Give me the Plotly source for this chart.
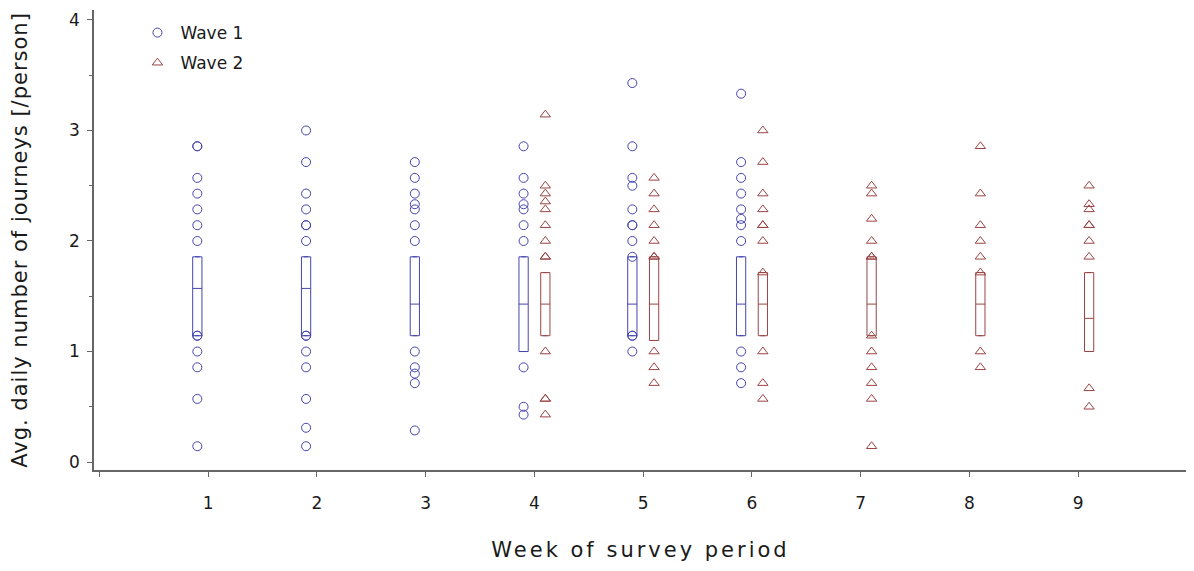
import plotly.graph_objects as go

weeks = [1, 2, 3, 4, 5, 6, 7, 8, 9]
tick_labels = ["1", "2", "3", "4", "5", "6", "7", "8", "9"]

# Wave 1 individual values (weeks 1-6)
wave1_wk1 = [2.857, 2.857, 2.571, 2.429, 2.286, 2.143, 2.0, 1.143, 1.143, 1.0, 0.857, 0.571, 0.143]
wave1_wk2 = [3.0, 2.714, 2.429, 2.286, 2.143, 2.143, 2.0, 1.143, 1.143, 1.0, 0.857, 0.571, 0.31, 0.143]
wave1_wk3 = [2.714, 2.571, 2.429, 2.333, 2.286, 2.143, 2.0, 1.0, 0.857, 0.80, 0.714, 0.286]
wave1_wk4 = [2.857, 2.571, 2.429, 2.333, 2.286, 2.143, 2.0, 0.857, 0.5, 0.429]
wave1_wk5 = [3.429, 2.857, 2.571, 2.5, 2.286, 2.143, 2.143, 2.0, 1.857, 1.143, 1.143, 1.0]
wave1_wk6 = [3.333, 2.714, 2.571, 2.429, 2.286, 2.2, 2.143, 2.0, 1.0, 0.857, 0.714]

# Wave 2 individual values (weeks 4-9)
wave2_wk4 = [3.143, 2.5, 2.429, 2.357, 2.286, 2.143, 2.0, 1.857, 1.857, 1.0, 0.571, 0.571, 0.429]
wave2_wk5 = [2.571, 2.429, 2.286, 2.143, 2.0, 1.857, 1.857, 1.0, 0.857, 0.714]
wave2_wk6 = [3.0, 2.714, 2.429, 2.286, 2.143, 2.143, 2.0, 1.714, 1.0, 0.714, 0.571]
wave2_wk7 = [2.5, 2.429, 2.2, 2.0, 1.857, 1.857, 1.143, 1.0, 0.857, 0.714, 0.571, 0.143]
wave2_wk8 = [2.857, 2.429, 2.143, 2.0, 1.857, 1.714, 1.0, 0.857]
wave2_wk9 = [2.5, 2.333, 2.286, 2.143, 2.143, 2.0, 1.857, 0.667, 0.5]

# Box statistics (quartiles and median)
wave1_box_weeks = [1, 2, 3, 4, 5, 6]
wave1_q1 = [1.143, 1.143, 1.143, 1.0, 1.143, 1.143]
wave1_med = [1.571, 1.571, 1.429, 1.429, 1.429, 1.429]
wave1_q3 = [1.857, 1.857, 1.857, 1.857, 1.857, 1.857]

wave2_box_weeks = [4, 5, 6, 7, 8, 9]
wave2_q1 = [1.143, 1.1, 1.143, 1.143, 1.143, 1.0]
wave2_med = [1.429, 1.429, 1.429, 1.429, 1.429, 1.3]
wave2_q3 = [1.714, 1.857, 1.714, 1.857, 1.714, 1.714]

wave1_data = {1: wave1_wk1, 2: wave1_wk2, 3: wave1_wk3, 4: wave1_wk4, 5: wave1_wk5, 6: wave1_wk6}
wave2_data = {4: wave2_wk4, 5: wave2_wk5, 6: wave2_wk6, 7: wave2_wk7, 8: wave2_wk8, 9: wave2_wk9}

C1 = "#4444b0"
C2 = "#9a4444"
OFF = 0.1
FONT = "DejaVu Sans, Liberation Sans, Arial, sans-serif"
TXT = "#1a1a1a"

fig = go.Figure()

def scatter_from(data, offset):
    xs, ys = [], []
    for wk, vals in data.items():
        for v in vals:
            xs.append(wk + offset)
            ys.append(v)
    return xs, ys

x1, y1 = scatter_from(wave1_data, -OFF)
x2, y2 = scatter_from(wave2_data, OFF)

fig.add_trace(go.Scatter(x=x1, y=y1, mode="markers", name="Wave 1", legendgroup="w1",
                         marker=dict(symbol="circle-open", size=9, color=C1, line=dict(width=1))))
fig.add_trace(go.Scatter(x=x2, y=y2, mode="markers", name="Wave 2", legendgroup="w2",
                         marker=dict(symbol="triangle-up-open", size=9, color=C2, line=dict(width=1))))

fig.add_trace(go.Box(x=[w - OFF for w in wave1_box_weeks], q1=wave1_q1, median=wave1_med, q3=wave1_q3,
                     lowerfence=wave1_q1, upperfence=wave1_q3, width=0.085, boxpoints=False,
                     line=dict(color=C1, width=1), fillcolor="rgba(0,0,0,0)", showlegend=False,
                     hoverinfo="skip"))
fig.add_trace(go.Box(x=[w + OFF for w in wave2_box_weeks], q1=wave2_q1, median=wave2_med, q3=wave2_q3,
                     lowerfence=wave2_q1, upperfence=wave2_q3, width=0.085, boxpoints=False,
                     line=dict(color=C2, width=1), fillcolor="rgba(0,0,0,0)", showlegend=False,
                     hoverinfo="skip"))

fig.update_layout(
    width=1194, height=571,
    margin=dict(l=86, r=15, t=2, b=109),
    paper_bgcolor="white", plot_bgcolor="white",
    font=dict(family=FONT, size=16, color=TXT),
    legend=dict(x=0.037, y=0.989, xanchor="left", yanchor="top", bgcolor="rgba(0,0,0,0)",
                font=dict(size=17, color=TXT), tracegroupgap=5, itemwidth=36),
    boxmode="overlay",
)

fig.update_xaxes(
    range=[-0.05, 10.0], tickmode="array", tickvals=list(range(0, 11)),
    ticktext=[""] + tick_labels + [""], automargin=False,
    showgrid=False, zeroline=False, showline=True, linecolor="#666", linewidth=1.5,
    ticks="outside", ticklen=5, tickcolor="#666", ticklabelstandoff=12,
    tickfont=dict(size=17, color=TXT),
    title=dict(text='<span style="letter-spacing:3px">Week of survey period</span>',
               font=dict(size=21, color=TXT), standoff=30),
)
fig.update_yaxes(
    range=[-0.072, 4.09], tickvals=[0, 1, 2, 3, 4], automargin=False,
    showgrid=False, zeroline=False, showline=True, linecolor="#666", linewidth=1.5,
    ticks="outside", ticklen=5, tickcolor="#666", ticklabelstandoff=4,
    tickfont=dict(size=17, color=TXT),
    minor=dict(tickvals=[0.5, 1.5, 2.5, 3.5], ticks="outside", ticklen=3, tickcolor="#666"),
    title=dict(text='<span style="letter-spacing:1px">Avg. daily number of journeys [/person]</span>',
               font=dict(size=21, color=TXT), standoff=38),
)

fig.write_html("out.html")
